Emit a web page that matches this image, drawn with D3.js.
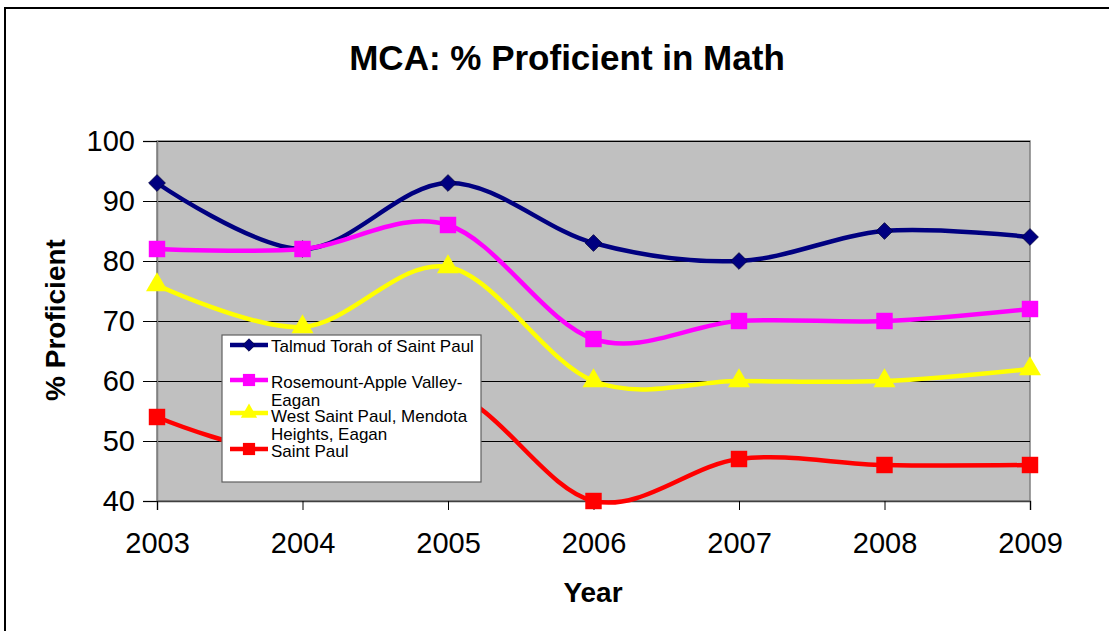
<!DOCTYPE html>
<html>
<head>
<meta charset="utf-8">
<script src="https://cdn.jsdelivr.net/npm/d3@7"></script>
<style>
  body { margin: 0; background: #fff; }
  text { font-family: Arial, "Liberation Sans", sans-serif; }
</style>
</head>
<body>
<div id="chart"></div>
<script>
// values
var years = ["2003", "2004", "2005", "2006", "2007", "2008", "2009"];
var talmud = [93, 82, 93, 83, 80, 85, 84];
var rosemount = [82, 82, 86, 67, 70, 70, 72];
var westStPaul = [76, 69, 79, 60, 60, 60, 62];
var saintPaul = [54, 48, 58, 40, 47, 46, 46];
var yTicks = [40, 50, 60, 70, 80, 90, 100];
var seriesNames = [
  ["Talmud Torah of Saint Paul"],
  ["Rosemount-Apple Valley-", "Eagan"],
  ["West Saint Paul, Mendota", "Heights, Eagan"],
  ["Saint Paul"]
];
var seriesColors = ["#000080", "#ff00ff", "#ffff00", "#ff0000"];
var seriesMarkers = ["diamond", "square", "triangle", "square"];

(function () {
  var width = 1109, height = 631;
  var plot = {left: 157, right: 1030, top: 141, bottom: 501};

  var svg = d3.select("#chart").append("svg")
    .attr("width", width)
    .attr("height", height);

  // outer chart border (runs off right and bottom)
  svg.append("rect")
    .attr("x", 5).attr("y", 8)
    .attr("width", width + 20).attr("height", height + 20)
    .attr("fill", "#fff")
    .attr("stroke", "#000").attr("stroke-width", 2);

  var x = d3.scalePoint().domain(years).range([plot.left, plot.right]);
  var y = d3.scaleLinear().domain([40, 100]).range([plot.bottom, plot.top]);

  // plot area
  svg.append("rect")
    .attr("x", plot.left).attr("y", plot.top)
    .attr("width", plot.right - plot.left)
    .attr("height", plot.bottom - plot.top)
    .attr("fill", "#c0c0c0")
    .attr("stroke", "#808080").attr("stroke-width", 1.5);

  // gridlines
  svg.append("g").selectAll("line")
    .data(yTicks.slice(1))
    .enter().append("line")
    .attr("x1", plot.left).attr("x2", plot.right)
    .attr("y1", function (d) { return y(d) + 0.5; })
    .attr("y2", function (d) { return y(d) + 0.5; })
    .attr("stroke", "#000").attr("stroke-width", 1);

  // axes
  var yAxis = svg.append("g")
    .attr("transform", "translate(" + plot.left + ",0)")
    .call(d3.axisLeft(y).tickValues(yTicks).tickSize(14).tickPadding(8));
  yAxis.select(".domain").attr("stroke", "#808080").attr("stroke-width", 1.5);
  yAxis.selectAll(".tick line").attr("stroke", "#000");
  yAxis.selectAll(".tick text")
    .attr("font-size", "29px").attr("fill", "#000")
    .attr("font-family", "Arial, 'Liberation Sans', sans-serif");

  var xAxis = svg.append("g")
    .attr("transform", "translate(0," + plot.bottom + ")")
    .call(d3.axisBottom(x).tickSize(9).tickPadding(22));
  xAxis.select(".domain").attr("stroke", "#404040").attr("stroke-width", 1.5);
  xAxis.selectAll(".tick line").attr("stroke", "#000");
  xAxis.selectAll(".tick text")
    .attr("font-size", "29px").attr("fill", "#000")
    .attr("font-family", "Arial, 'Liberation Sans', sans-serif");

  // titles
  svg.append("text")
    .attr("x", 567).attr("y", 70)
    .attr("text-anchor", "middle")
    .attr("font-size", "35px").attr("font-weight", "bold")
    .text("MCA: % Proficient in Math");

  svg.append("text")
    .attr("x", 593).attr("y", 602)
    .attr("text-anchor", "middle")
    .attr("font-size", "28px").attr("font-weight", "bold")
    .text("Year");

  svg.append("text")
    .attr("transform", "translate(65,320) rotate(-90)")
    .attr("text-anchor", "middle")
    .attr("font-size", "28px").attr("font-weight", "bold")
    .text("% Proficient");

  var allSeries = [talmud, rosemount, westStPaul, saintPaul];

  var line = d3.line()
    .x(function (d, i) { return x(years[i]); })
    .y(function (d) { return y(d); })
    .curve(d3.curveCatmullRom.alpha(0));

  function markerPath(type, size) {
    if (type === "triangle") return d3.symbol().type(d3.symbolTriangle).size(size * 1.1)();
    return d3.symbol().type(d3.symbolSquare).size(size)();
  }

  function drawMarker(g, type, color, cx, cy, scale) {
    var s = scale || 1;
    var sz = type === "diamond" ? 140 * s : (type === "triangle" ? 190 * s : 270 * s);
    g.append("path")
      .attr("d", markerPath(type, sz))
      .attr("transform", "translate(" + cx + "," + cy + ")" + (type === "diamond" ? " rotate(45)" : ""))
      .attr("fill", color)
      .attr("stroke", type === "diamond" ? "#000040" : color)
      .attr("stroke-width", type === "diamond" ? 0.8 : 0);
  }

  // lines and markers
  allSeries.forEach(function (vals, k) {
    var g = svg.append("g");
    g.append("path")
      .datum(vals)
      .attr("d", line)
      .attr("fill", "none")
      .attr("stroke", seriesColors[k])
      .attr("stroke-width", 4.5);
    vals.forEach(function (v, i) {
      drawMarker(g, seriesMarkers[k], seriesColors[k], x(years[i]), y(v));
    });
  });

  // legend
  var legend = svg.append("g");
  legend.append("rect")
    .attr("x", 222).attr("y", 335)
    .attr("width", 259).attr("height", 147)
    .attr("fill", "#fff")
    .attr("stroke", "#606060").attr("stroke-width", 1.2);

  var sampleY = [345, 380, 413, 449];
  var textY = [352, 388, 422, 457];
  seriesNames.forEach(function (lines, k) {
    legend.append("line")
      .attr("x1", 230).attr("x2", 268)
      .attr("y1", sampleY[k]).attr("y2", sampleY[k])
      .attr("stroke", seriesColors[k]).attr("stroke-width", 4.5);
    drawMarker(legend, seriesMarkers[k], seriesColors[k], 249, sampleY[k], 0.55);
    lines.forEach(function (t, j) {
      legend.append("text")
        .attr("x", 271).attr("y", textY[k] + j * 18)
        .attr("font-size", "17px")
        .attr("fill", "#000")
        .text(t);
    });
  });
})();
</script>
</body>
</html>
